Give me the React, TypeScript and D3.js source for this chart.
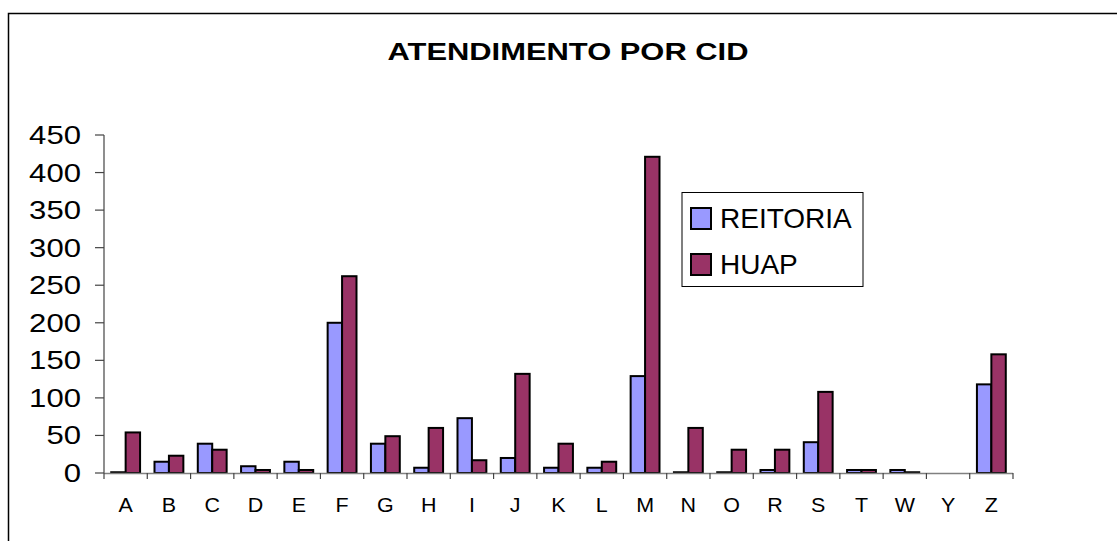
import * as d3 from 'd3'

const categories = ['A', 'B', 'C', 'D', 'E', 'F', 'G', 'H', 'I', 'J', 'K', 'L', 'M', 'N', 'O', 'R', 'S', 'T', 'W', 'Y', 'Z']
const reitoria = [1, 15, 39, 9, 15, 200, 39, 7, 73, 20, 7, 7, 129, 1, 1, 4, 41, 4, 4, 0, 118]
const huap = [54, 23, 31, 4, 4, 262, 49, 60, 17, 132, 39, 15, 421, 60, 31, 31, 108, 4, 1, 0, 158]
const seriesNames = ['REITORIA', 'HUAP']
const seriesColors = ['#9999ff', '#993366']
const yTicks = [0, 50, 100, 150, 200, 250, 300, 350, 400, 450]

const W = 1117
const H = 541
const plot = { left: 104, right: 1013, top: 135, bottom: 473 }
const font = 'Arial, "Liberation Sans", Helvetica, sans-serif'

export default function App() {
  const x = d3.scaleBand<string>().domain(categories).range([plot.left, plot.right]).paddingInner(0).paddingOuter(0)
  const xs = d3.scaleBand<string>().domain(seriesNames).range([0, x.bandwidth()]).paddingInner(0).paddingOuter(0.5)
  const y = d3.scaleLinear().domain([0, 450]).range([plot.bottom, plot.top])
  const values = [reitoria, huap]
  const bounds = [...categories.map((c) => x(c) as number), plot.right]

  return (
    <svg width={W} height={H} style={{ position: 'absolute', left: 0, top: 0, background: '#fff' }} fontFamily={font}>
      <rect x={8.5} y={13.5} width={1130} height={600} fill="#fff" stroke="#000" strokeWidth={1.5} />

      <text x={568} y={59.5} fontSize={24.5} fontWeight="bold" textAnchor="middle" textLength={361} lengthAdjust="spacingAndGlyphs">
        ATENDIMENTO POR CID
      </text>

      {/* y axis */}
      <line x1={plot.left} x2={plot.left} y1={plot.top} y2={plot.bottom} stroke="#444" strokeWidth={1.2} />
      {yTicks.map((t) => (
        <g key={t}>
          <line x1={plot.left - 9} x2={plot.left} y1={y(t)} y2={y(t)} stroke="#444" strokeWidth={1.2} />
          <text transform={`translate(81,${y(t) + 9}) scale(1.22,1)`} fontSize={25.5} textAnchor="end">
            {t}
          </text>
        </g>
      ))}

      {/* bars */}
      {categories.map((c, i) => (
        <g key={c} transform={`translate(${x(c)},0)`}>
          {seriesNames.map((s, j) => {
            const v = values[j][i]
            if (v <= 0) return null
            return (
              <rect
                key={s}
                x={xs(s)}
                y={y(v)}
                width={xs.bandwidth()}
                height={plot.bottom - y(v)}
                fill={seriesColors[j]}
                stroke="#000"
                strokeWidth={2}
              />
            )
          })}
        </g>
      ))}

      {/* x axis */}
      <line x1={plot.left} x2={plot.right} y1={plot.bottom + 0.5} y2={plot.bottom + 0.5} stroke="#808080" strokeWidth={1.5} />
      {bounds.map((b, i) => (
        <line key={i} x1={b} x2={b} y1={plot.bottom} y2={plot.bottom + 6} stroke="#444" strokeWidth={1.2} />
      ))}
      {categories.map((c) => (
        <text
          key={c}
          transform={`translate(${(x(c) as number) + x.bandwidth() / 2},512) scale(1.1,1)`}
          fontSize={19.5}
          textAnchor="middle"
        >
          {c}
        </text>
      ))}

      {/* legend */}
      <rect x={682} y={192.5} width={181} height={94} fill="#fff" stroke="#000" strokeWidth={1} />
      {seriesNames.map((s, j) => (
        <g key={s} transform={`translate(691,${208 + j * 46})`}>
          <rect x={0} y={0} width={20} height={21} fill={seriesColors[j]} stroke="#000" strokeWidth={2} />
          <text x={29} y={20} fontSize={28}>
            {s}
          </text>
        </g>
      ))}
    </svg>
  )
}
